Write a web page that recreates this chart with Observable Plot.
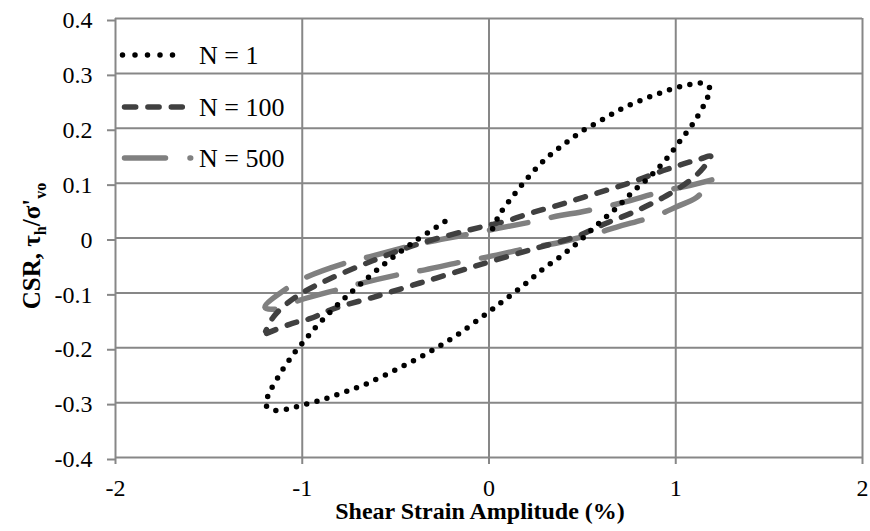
<!DOCTYPE html>
<html>
<head>
<meta charset="utf-8">
<script src="https://cdn.jsdelivr.net/npm/d3@7"></script>
<script src="https://cdn.jsdelivr.net/npm/@observablehq/plot@0.6"></script>
<style>
  html, body { margin: 0; padding: 0; background: #fff; }
  #wrap { position: relative; width: 870px; height: 531px; font-family: "Liberation Serif", "Times New Roman", serif; }
  #legend { position: absolute; left: 118px; top: 30px; }
  .row { position: absolute; left: 0; height: 30px; width: 200px; }
  .row svg { position: absolute; left: 0; top: 0; }
  .row span { position: absolute; left: 81px; font-size: 26px; line-height: 30px; top: 1px; white-space: nowrap; color: #000; }
</style>
</head>
<body>
<div id="wrap"><div id="legend"></div></div>
<script>
// ---- data ----
const xTicks = [-2, -1, 0, 1, 2];
const xTickLabels = ["-2", "-1", "0", "1", "2"];
const yTicks = [-0.4, -0.3, -0.2, -0.1, 0, 0.1, 0.2, 0.3, 0.4];
const yTickLabels = ["-0.4", "-0.3", "-0.2", "-0.1", "0", "0.1", "0.2", "0.3", "0.4"];

const seriesNames = ["N = 1", "N = 100", "N = 500"];

// N = 1
const n1X = [-0.236, -0.396, -0.552, -0.691, -0.787, -0.921, -1.0, -1.044, -1.116, -1.177, -1.196, -1.152, -1.087, -1.027, -0.904, -0.784, -0.664, -0.494, -0.325, -0.164, -0.007, 0.091, 0.193, 0.291, 0.393, 0.487, 0.585, 0.680, 0.773, 0.868, 0.952, 1.028, 1.103, 1.166, 1.184, 1.142, 1.077, 0.957, 0.836, 0.719, 0.609, 0.500, 0.398, 0.300, 0.211, 0.130, 0.055, 0.0];
const n1Y = [0.030, -0.006, -0.045, -0.085, -0.114, -0.160, -0.192, -0.210, -0.246, -0.283, -0.304, -0.314, -0.312, -0.307, -0.296, -0.282, -0.267, -0.239, -0.209, -0.175, -0.136, -0.111, -0.084, -0.056, -0.031, -0.005, 0.026, 0.054, 0.085, 0.114, 0.145, 0.179, 0.214, 0.253, 0.272, 0.282, 0.280, 0.269, 0.254, 0.237, 0.216, 0.195, 0.170, 0.143, 0.111, 0.077, 0.042, 0.001];

// N = 100
const n100X = [-1.191, -1.057, -0.959, -0.834, -0.620, -0.370, -0.119, -0.004, 0.237, 0.470, 0.621, 0.773, 0.934, 1.077, 1.148, 1.187, 1.130, 1.041, 0.934, 0.791, 0.657, 0.505, 0.363, 0.229, 0.095, -0.031, -0.379, -0.620, -0.869, -0.995, -1.084, -1.155, -1.196];
const n100Y = [-0.174, -0.156, -0.147, -0.129, -0.108, -0.082, -0.056, -0.044, -0.020, 0.003, 0.026, 0.047, 0.074, 0.105, 0.128, 0.149, 0.144, 0.135, 0.123, 0.105, 0.090, 0.074, 0.059, 0.046, 0.031, 0.021, -0.011, -0.041, -0.077, -0.099, -0.120, -0.144, -0.170];

// N = 500
const n500X = [1.193, 1.055, 0.952, 0.719, 0.612, 0.487, 0.380, 0.264, 0.041, -0.075, -0.307, -0.414, -0.637, -0.754, -0.976, -1.075, -1.200, -1.155, -1.021, -0.798, -0.691, -0.459, -0.343, -0.111, 0.0, 0.229, 0.336, 0.487, 0.568, 0.684, 0.898, 1.005, 1.111, 1.184];
const n500Y = [0.106, 0.094, 0.087, 0.065, 0.056, 0.047, 0.041, 0.032, 0.017, 0.009, -0.006, -0.014, -0.034, -0.044, -0.071, -0.090, -0.126, -0.130, -0.114, -0.093, -0.083, -0.065, -0.058, -0.041, -0.034, -0.017, -0.011, 0.001, 0.008, 0.020, 0.041, 0.057, 0.074, 0.099];

// ---- styles ----
const styles = [
  {stroke: "#000000", dash: "0 10.5", width: 5.5, legendDash: "0 12.5", lx1: 4.5, lx2: 67},
  {stroke: "#404040", dash: "10 12", width: 5.5, legendDash: "11.2 12.2", lx1: 6.5, lx2: 64.3},
  {stroke: "#808080", dash: "39 24", width: 5.5, legendDash: "41 24.5", lx1: 6.5, lx2: 72.7}
];
const seriesX = [n1X, n100X, n500X];
const seriesY = [n1Y, n100Y, n500Y];
const tables = seriesX.map((xs, i) => xs.map((x, j) => ({x, y: seriesY[i][j]})));

const gridColor = "#878787";

const chart = Plot.plot({
  width: 870,
  height: 531,
  marginLeft: 115,
  marginRight: 8,
  marginTop: 18,
  marginBottom: 74,
  style: {fontFamily: "'Liberation Serif', 'Times New Roman', serif", background: "#fff", color: "#000"},
  x: {domain: [-2, 2]},
  y: {domain: [-0.4, 0.4]},
  marks: [
    Plot.gridX(xTicks, {stroke: gridColor, strokeOpacity: 1, strokeWidth: 2}),
    Plot.gridY(yTicks, {stroke: gridColor, strokeOpacity: 1, strokeWidth: 2}),
    Plot.axisX(xTicks, {tickSize: 7, tickPadding: 14, fontSize: 24, stroke: gridColor, strokeWidth: 2, fill: "#000",
      tickFormat: (d) => xTickLabels[xTicks.indexOf(d)], label: null}),
    Plot.axisY(yTicks, {tickSize: 8, tickPadding: 15, fontSize: 24, stroke: gridColor, strokeWidth: 2, fill: "#000",
      tickFormat: (d) => yTickLabels[yTicks.indexOf(d)], label: null, dy: 2}),
    ...tables.map((t, i) => Plot.line(t, {
      x: "x", y: "y", curve: "catmull-rom",
      stroke: styles[i].stroke, strokeWidth: styles[i].width,
      strokeDasharray: styles[i].dash, strokeLinecap: "round", strokeLinejoin: "round"
    })).reverse()
  ]
});

document.getElementById("wrap").prepend(chart);

// Titles
const svg = d3.select(chart);
svg.append("text")
  .attr("x", 480).attr("y", 519)
  .attr("text-anchor", "middle")
  .attr("font-weight", "bold").attr("font-size", 24)
  .attr("fill", "#000")
  .text("Shear Strain Amplitude (%)");

const yt = svg.append("text")
  .attr("transform", "translate(40,246) rotate(-90)")
  .attr("text-anchor", "middle")
  .attr("font-weight", "bold").attr("font-size", 25)
  .attr("fill", "#000");
yt.append("tspan").text("CSR, τ");
yt.append("tspan").attr("font-size", 16).attr("dy", 6).text("h");
yt.append("tspan").attr("dy", -6).text("/σ'");
yt.append("tspan").attr("font-size", 16).attr("dy", 6).text("vo");

// Legend
const legend = document.getElementById("legend");
const rowTops = [10, 62, 113];
seriesNames.forEach((name, i) => {
  const row = document.createElement("div");
  row.className = "row";
  row.style.top = rowTops[i] + "px";
  const s = styles[i];
  row.innerHTML = `<svg width="78" height="30"><line x1="${s.lx1}" x2="${s.lx2}" y1="15" y2="15" stroke="${s.stroke}" stroke-width="${s.width}" stroke-dasharray="${s.legendDash}" stroke-linecap="round"/></svg><span>${name}</span>`;
  legend.appendChild(row);
});
</script>
</body>
</html>
